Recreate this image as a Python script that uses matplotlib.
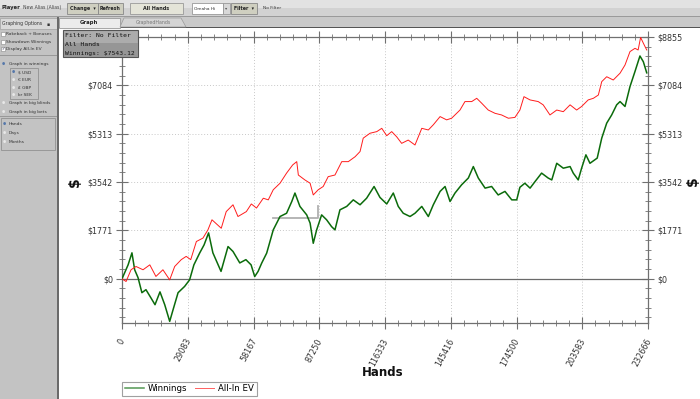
import numpy as np
import matplotlib
matplotlib.use('Agg')
import matplotlib.pyplot as plt
from matplotlib.patches import Rectangle, Polygon
from matplotlib.ticker import FixedLocator, MultipleLocator
from matplotlib.transforms import ScaledTranslation

# hands in thousands, money in $
win_hands = [0, 2.7, 4.4, 5.6, 7.1, 8.8, 10.6, 12.8, 14.6, 16.8, 18.9, 21.1, 22.6, 24.8, 27.7, 29.9,
             31.8, 34.4, 36.3, 38.3, 40.2, 43.8, 46.9, 49.1, 52.1, 54.8, 57.1, 58.7, 60.2, 61.8, 64.0,
             66.9, 69.9, 72.8, 75.1, 76.5, 78.7, 81.7, 83.2, 84.6, 86.1, 88.3, 90.5, 92.7, 94.2, 96.4,
             99.4, 102.3, 105.3, 108.2, 111.5, 114.1, 117.1, 120.0, 122.2, 124.4, 127.4, 129.6, 132.6,
             135.5, 137.7, 140.7, 142.9, 145.1, 147.3, 150.2, 153.2, 155.4, 157.6, 160.6, 163.5, 166.4,
             169.4, 172.4, 174.6, 176.0, 178.2, 180.5, 182.7, 185.6, 188.5, 190.1, 192.3, 195.2, 198.2,
             199.6, 201.8, 203.3, 205.2, 207.0, 210.2, 212.2, 214.4, 216.6, 218.8, 220.3, 222.5, 224.7,
             226.9, 229.1, 230.6, 232.1]
winnings = [0, 510, 950, 330, 40, -510, -400, -700, -950, -480, -950, -1560, -1130, -510, -280, -40,
            510, 950, 1240, 1680, 950, 270, 1180, 1000, 580, 700, 510, 80, 270, 575, 940,
            1790, 2280, 2400, 2830, 3140, 2650, 2340, 2040, 1300, 1790, 2340, 2160, 1910, 1790, 2525,
            2650, 2890, 2710, 2950, 3380, 2980, 2740, 3140, 2650, 2400, 2280, 2400, 2650,
            2280, 2710, 3200, 3380, 2830, 3140, 3440, 3690, 4110, 3690, 3320, 3380, 3070,
            3200, 2890, 2890, 3350, 3500, 3320, 3560, 3870, 3690, 3620, 4230, 4050, 4110,
            3870, 3620, 4050, 4540, 4230, 4420, 5150, 5700, 6000, 6370, 6490, 6310, 7040,
            7590, 8160, 7950, 7543]

ev_hands = [0, 1.8, 4.0, 6.2, 9.3, 12.3, 15.0, 18.1, 21.1, 23.3, 26.2, 28.4, 30.4, 32.9, 35.8, 38.0,
            39.8, 43.9, 46.1, 49.1, 51.3, 55.0, 57.2, 59.5, 62.5, 64.7, 66.9, 69.9, 72.8, 75.5, 77.3,
            78.0, 80.9, 83.2, 84.6, 86.8, 89.0, 91.2, 94.2, 97.2, 100.1, 103.1, 105.3, 106.7, 109.7,
            112.7, 114.9, 117.1, 119.3, 121.5, 123.7, 126.6, 129.6, 132.6, 135.5, 137.7, 140.7, 143.6,
            145.8, 149.5, 151.7, 154.7, 156.9, 159.1, 162.0, 165.0, 167.9, 170.9, 173.8, 176.0, 177.8,
            180.5, 184.1, 186.3, 189.3, 192.3, 195.2, 198.2, 201.1, 203.3, 206.2, 208.5, 210.7, 212.2,
            214.4, 217.3, 220.3, 222.5, 224.7, 226.9, 228.3, 229.4, 230.6, 232.1]
allin_ev = [0, -100, 330, 450, 330, 510, 85, 330, -40, 450, 700, 820, 700, 1365, 1490, 1790,
            2160, 1850, 2460, 2710, 2280, 2460, 2740, 2590, 2950, 2890, 3260, 3500, 3870, 4170, 4290,
            3800, 3620, 3500, 3070, 3260, 3380, 3740, 3800, 4290, 4290, 4470, 4660, 5150, 5330,
            5390, 5510, 5240, 5390, 5200, 4960, 5080, 4900, 5510, 5450, 5640, 5940, 5820,
            5880, 6180, 6490, 6490, 6610, 6430, 6180, 6060, 6000, 5880, 5910, 6180, 6670,
            6550, 6490, 6370, 6000, 6180, 6120, 6370, 6180, 6310, 6550, 6610, 6730, 7220,
            7400, 7280, 7530, 7830, 8320, 8440, 8380, 8840, 8630, 8380]

# grey selection marker left on the graph
mark_hands = [66.8, 86.7, 86.7]
mark_vals = [2230, 2230, 2650]

x_ticks = [0, 29083, 58167, 87250, 116333, 145416, 174500, 203583, 232666]
y_ticks = [0, 1771, 3542, 5313, 7084, 8855]

W, H = 700, 399
fig = plt.figure(figsize=(7, 3.99), dpi=100, facecolor='white')


def box(x0, y0, x1, y1, fc, ec='none', lw=0.6, z=1):
    r = Rectangle((x0 / W, 1 - y1 / H), (x1 - x0) / W, (y1 - y0) / H, transform=fig.transFigure,
                  facecolor=fc, edgecolor=ec, linewidth=lw, zorder=z)
    fig.add_artist(r)


def txt(x, y, s, size=3.4, **kw):
    fig.text(x / W, 1 - y / H, s, fontsize=size, va='center', **kw)


# toolbar
box(0, 0, 700, 8, '#e2e2e2')
box(0, 8, 700, 16, '#d2d2d2')
box(0, 16, 700, 27, '#c9c9c9')
box(0, 16, 700, 17, '#9a9a9a')
txt(2, 8, 'Player', 3.8, fontweight='bold', color='#222')
txt(23, 8, 'New Alias (Alias)', 3.3, color='#444')
box(67, 3, 98, 14, '#cfcfc0', '#888')
txt(70, 8.5, 'Change  ▾', 3.4, fontweight='bold', color='#222')
box(98, 3, 123, 14, '#cfcfc0', '#888')
txt(100, 8.5, 'Refresh', 3.4, fontweight='bold', color='#222')
box(130, 3, 183, 14, '#e4e4d8', '#999')
txt(156.5, 8.5, 'All Hands', 3.5, fontweight='bold', color='#222', ha='center')
box(192, 3, 223, 14, 'white', '#999')
txt(194, 8.5, 'Omaha Hi', 3.2, color='#333')
box(223, 3, 230, 14, '#d8d8d8', '#999')
txt(226.5, 8.5, '▾', 3.2, color='#555', ha='center')
box(231, 3, 257, 14, '#cfcfc0', '#888')
txt(234, 8.5, 'Filter  ▾', 3.4, fontweight='bold', color='#222')
txt(263, 8, 'No Filter', 3.2, color='#333')

# left options panel
box(0, 17, 57, 399, '#c3c3c3')
box(0, 18, 57, 29, '#d9d9d9', '#aaa')
box(57, 17, 58.5, 399, '#6a6a6a')
txt(2, 24, 'Graphing Options', 3.3, color='#333')
txt(47, 24, '▪', 3.3, color='#333')
for yy, s, on in [(34, 'Rakeback + Bonuses', False), (42, 'Showdown Winnings', False),
                  (49, 'Display All-In EV', True)]:
    box(1, yy - 2, 5, yy + 2, 'white', '#888', 0.4)
    if on:
        txt(1.4, yy, '✓', 3.0, color='#335')
    txt(6.5, yy, s, 3.2, color='#333')
box(0, 55.5, 57, 56.3, '#999')
txt(2, 64, '●', 2.6, color='#5577aa')
txt(9, 64, 'Graph in winnings', 3.2, color='#333')
box(10, 68, 38, 99, '#c3c3c3', '#888', 0.5)
for yy, s, on in [(72, '$ USD', True), (80, '€ EUR', False), (88, '£ GBP', False), (95, 'kr SEK', False)]:
    txt(12, yy, '●', 2.6, color='#5577aa' if on else '#e8e8e8')
    txt(18, yy, s, 3.2, color='#333')
for yy, s in [(103, 'Graph in big blinds'), (112, 'Graph in big bets')]:
    txt(2, yy, '●', 2.6, color='#e8e8e8')
    txt(9, yy, s, 3.2, color='#333')
box(0, 116, 57, 117, '#999')
box(1, 118, 55, 150, '#c3c3c3', '#888', 0.5)
for yy, s, on in [(124, 'Hands', True), (133, 'Days', False), (142, 'Months', False)]:
    txt(3, yy, '●', 2.6, color='#5577aa' if on else '#e8e8e8')
    txt(9, yy, s, 3.2, color='#333')

# tabs
box(58.5, 27, 700, 28, '#555')
box(58.5, 18, 120, 27.5, '#ececec', '#999')
txt(89, 22.5, 'Graph', 3.8, fontweight='bold', color='#222', ha='center')
tab2 = Polygon([(120 / W, 1 - 27 / H), (124 / W, 1 - 18 / H), (181 / W, 1 - 18 / H), (186 / W, 1 - 27 / H)],
               closed=True, transform=fig.transFigure, facecolor='#d4d4d4', edgecolor='#999', lw=0.5)
fig.add_artist(tab2)
txt(153, 22.5, 'GraphedHands', 3.4, color='#777', ha='center')

# graph
ax = fig.add_axes([122 / W, 1 - 323 / H, (648 - 122) / W, (323 - 37) / H])
ax.set_facecolor('white')
ax.set_xlim(0, 232666)
ax.set_ylim(-1620, 8855)

ax.plot(np.array(win_hands) * 1000, winnings, color='#0b6b0b', lw=1.1, zorder=3)
ax.plot(np.array(ev_hands) * 1000, allin_ev, color='#ff1c1c', lw=0.7, zorder=4)
ax.plot(np.array(mark_hands) * 1000, mark_vals, color='#b0b0b0', lw=1.3, zorder=2)
ax.axhline(0, color='#6a6a6a', lw=0.9, zorder=2)

ax.xaxis.set_major_locator(FixedLocator(x_ticks))
ax.xaxis.set_minor_locator(MultipleLocator(232666 / 40))
ax.yaxis.set_major_locator(FixedLocator(y_ticks))
ax.yaxis.set_minor_locator(MultipleLocator(1771 / 5))
ax.set_xticklabels([str(v) for v in x_ticks])
ax.set_yticklabels(['$' + str(v) for v in y_ticks])
ax.grid(True, which='major', color='#c8c8c8', linestyle=(0, (1, 2)), lw=0.7)
ax.set_axisbelow(True)

for sp in ax.spines.values():
    sp.set_color('#707070')
    sp.set_linewidth(0.9)
ax.tick_params(which='major', direction='inout', length=8, width=0.8, color='#707070',
               top=True, right=True, labelright=True, labelsize=5.8, labelcolor='#333')
ax.tick_params(which='minor', direction='inout', length=4.5, width=0.6, color='#707070',
               top=True, right=True)
ax.tick_params(axis='y', pad=2.5)
ax.tick_params(axis='x', pad=6)
# the top-left label sits under the filter box in the app
ax.yaxis.get_major_ticks()[-1].label1.set_visible(False)
off = ScaledTranslation(5 / 100, 0, fig.dpi_scale_trans)
for lab in ax.get_xticklabels():
    lab.set_rotation(62)
    lab.set_ha('right')
    lab.set_va('top')
    lab.set_transform(lab.get_transform() + off)

txt(383, 372, 'Hands', 8.5, fontweight='bold', color='#111', ha='center')
txt(75, 182, '$', 10, fontweight='bold', color='#111', ha='center', rotation=90)
txt(693, 181, '$', 10, fontweight='bold', color='#111', ha='center', rotation=90)

# legend
lg = ax.legend(['Winnings', 'All-In EV'], loc='upper left', bbox_to_anchor=(0, -0.205), ncol=2,
               fontsize=6.2, frameon=True, fancybox=False, borderpad=0.3, handlelength=2.2,
               columnspacing=0.9, handletextpad=0.5, borderaxespad=0)
lg.get_frame().set_edgecolor('#888')
lg.get_frame().set_linewidth(0.8)
for h in lg.get_lines():
    h.set_alpha(0.7)

# filter info box
box(63, 30, 138, 57, '#acacac', '#555', 0.8, z=10)
box(63.5, 43, 137.5, 56.5, '#969696', 'none', z=10)
for yy, s in [(35.5, 'Filter: No Filter'), (44.5, 'All Hands'), (53, 'Winnings: $7543.12')]:
    fig.text(65 / W, 1 - yy / H, s, fontsize=4.6, family='DejaVu Sans Mono', color='#111',
             va='center', zorder=11)

fig.savefig('out.png', dpi=100, facecolor='white')
